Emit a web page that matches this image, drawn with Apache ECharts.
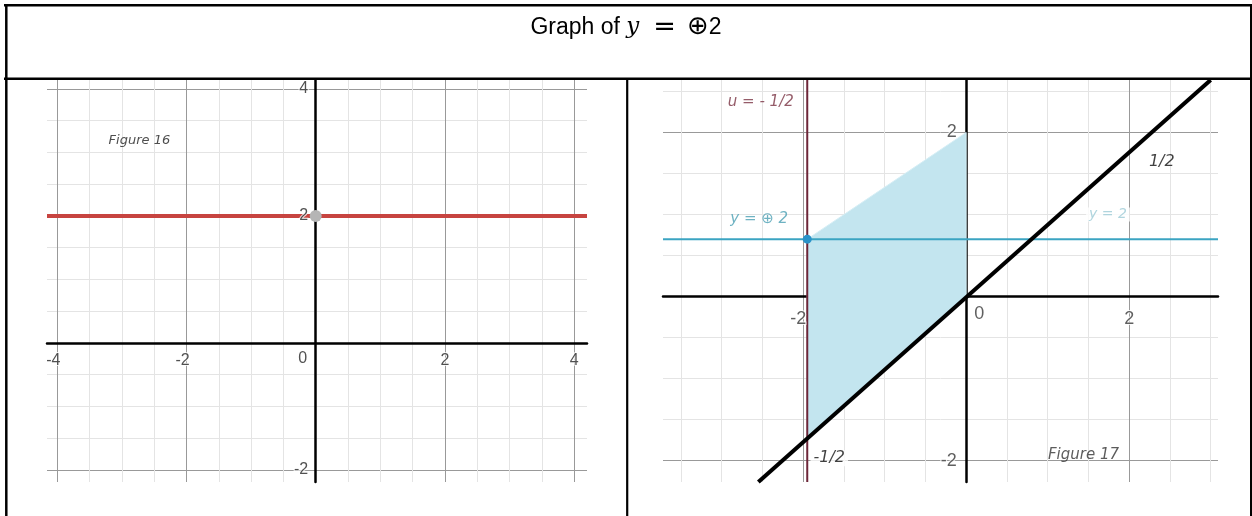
<!DOCTYPE html>
<html>
<head>
<meta charset="utf-8">
<script src="https://cdn.jsdelivr.net/npm/echarts@6/dist/echarts.min.js"></script>
<style>
html, body { margin: 0; padding: 0; background: #fff; }
#chart { width: 1252px; height: 516px; }
</style>
</head>
<body>
<div id="chart"></div>
<script>
// Figure 16 : the plain line y = 2
const fig16XRange = [-4.16, 4.2];
const fig16YRange = [-2.19, 4.14];
const fig16XTicks = [-4, -3.5, -3, -2.5, -2, -1.5, -1, -0.5, 0, 0.5, 1, 1.5, 2, 2.5, 3, 3.5, 4];
const fig16YTicks = [-2, -1.5, -1, -0.5, 0, 0.5, 1, 1.5, 2, 2.5, 3, 3.5, 4];
const fig16XLabels = [-4, -2, 2, 4];
const fig16YLabels = [-2, 2, 4];
const fig16LineX = [-4.16, 4.2];
const fig16LineY = [2, 2];
const fig16Point = [0, 2];
const fig16Notes = ['Figure 16'];
const fig16NoteAt = [[-2.73, 3.18]];

// Figure 17 : y = (+)2 built from u = -1/2
const fig17XRange = [-3.72, 3.09];
const fig17YRange = [-2.26, 2.64];
const fig17XTicks = [-3.5, -3, -2.5, -2, -1.5, -1, -0.5, 0, 0.5, 1, 1.5, 2, 2.5, 3];
const fig17YTicks = [-2, -1.5, -1, -0.5, 0, 0.5, 1, 1.5, 2, 2.5];
const fig17XLabels = [-2, 2];
const fig17YLabels = [-2, 2];
const fig17Region = [[-1.95, 0.7], [0, 2], [0, 0], [-1.95, -1.72]];
const fig17Diagonal = [[-2.55, -2.26], [3.0, 2.64]];
const fig17Level = [[-3.72, 0.7], [3.09, 0.7]];
const fig17Wall = [[-1.95, -2.26], [-1.95, 2.64]];
const fig17Point = [-1.95, 0.7];
const fig17Notes = ['u = - 1/2', 'y = \u2295 2', 'y = 2', '1/2', '-1/2', 'Figure 17'];
const fig17NoteAt = [[-2.52, 2.37], [-2.54, 0.95], [1.74, 1.0], [2.4, 1.64], [-1.68, -1.97], [1.44, -1.93]];

const MAJOR = '#999999';
const MINOR = '#e4e4e4';

const chart = echarts.init(document.getElementById('chart'));

// one axis of a desmos-like grid: light lines every 0.5, dark every 2
function gridAxis(gridIndex, range, ticks) {
    return {
        type: 'value',
        gridIndex: gridIndex,
        min: range[0],
        max: range[1],
        axisLine: { onZero: true, lineStyle: { color: '#000', width: 2.5 } },
        axisTick: { show: false, customValues: ticks },
        axisLabel: { show: false },
        splitLine: {
            show: true,
            lineStyle: { width: 1, color: ticks.map(v => v % 2 === 0 ? MAJOR : MINOR) }
        }
    };
}

// tick numbers sit next to the axis lines, like in desmos
function tickLabels(idx, values, dim, style) {
    return {
        type: 'scatter',
        xAxisIndex: idx,
        yAxisIndex: idx,
        symbolSize: 1,
        itemStyle: { color: 'transparent' },
        silent: true,
        z: 8,
        data: values.map(v => ({
            value: dim === 'x' ? [v, 0] : [0, v],
            label: { offset: dim === 'x' && v < 0 ? [style.shift, 0] : [0, 0] }
        })),
        label: {
            show: true,
            position: dim === 'x' ? 'bottom' : 'left',
            distance: style.distance,
            formatter: p => String(p.value[dim === 'x' ? 0 : 1]),
            fontFamily: 'Liberation Sans',
            fontSize: style.fontSize,
            color: style.color,
            textBorderColor: '#fff',
            textBorderWidth: 2
        }
    };
}

function notes(texts, at, xi, style) {
    return {
        type: 'scatter',
        xAxisIndex: xi,
        yAxisIndex: xi,
        symbolSize: 1,
        itemStyle: { color: 'transparent' },
        silent: true,
        z: 10,
        data: texts.map((t, i) => ({
            value: at[i],
            label: Object.assign({ show: true, position: 'inside', formatter: t }, style[i])
        }))
    };
}

const noteFont = { fontFamily: 'DejaVu Sans', fontStyle: 'italic' };
const fig16Tick = { fontSize: 16, color: '#262626', shift: -4 };
const fig17Tick = { fontSize: 18, color: '#383838', shift: -5 };

const option = {
    animation: false,
    title: {
        left: 'center',
        top: 9,
        text: '{a|Graph of }{y|y}{e|=}{c|\u2295}{d|2}',
        textStyle: {
            rich: {
                a: { fontFamily: 'Liberation Sans', fontWeight: 'normal', fontSize: 23, color: '#000' },
                y: { fontFamily: 'DejaVu Serif', fontWeight: 'normal', fontStyle: 'italic', fontSize: 23, color: '#000' },
                e: { fontFamily: 'DejaVu Sans', fontWeight: 'normal', fontSize: 27, color: '#000', padding: [0, 11, 0, 14] },
                c: { fontFamily: 'DejaVu Sans', fontWeight: 'normal', fontSize: 26, color: '#000' },
                d: { fontFamily: 'Liberation Sans', fontWeight: 'normal', fontSize: 23, color: '#000' }
            }
        }
    },
    grid: [
        { left: 47, top: 80, width: 540, height: 402 },
        { left: 663, top: 80, width: 555, height: 402 }
    ],
    xAxis: [
        gridAxis(0, fig16XRange, fig16XTicks),
        gridAxis(1, fig17XRange, fig17XTicks)
    ],
    yAxis: [
        gridAxis(0, fig16YRange, fig16YTicks),
        gridAxis(1, fig17YRange, fig17YTicks)
    ],
    graphic: {
        elements: [
            { type: 'line', z: 100, shape: { x1: 4, y1: 5.3, x2: 1252, y2: 5.3 }, style: { stroke: '#000', lineWidth: 2.5 } },
            { type: 'line', z: 100, shape: { x1: 4, y1: 78.7, x2: 1252, y2: 78.7 }, style: { stroke: '#000', lineWidth: 2.5 } },
            { type: 'line', z: 100, shape: { x1: 6.3, y1: 4, x2: 6.3, y2: 516 }, style: { stroke: '#000', lineWidth: 2.5 } },
            { type: 'line', z: 100, shape: { x1: 627.2, y1: 78, x2: 627.2, y2: 516 }, style: { stroke: '#000', lineWidth: 2.2 } },
            { type: 'line', z: 100, shape: { x1: 1251, y1: 4, x2: 1251, y2: 516 }, style: { stroke: '#000', lineWidth: 2 } }
        ]
    },
    series: [
        // figure 16
        {
            type: 'line',
            xAxisIndex: 0,
            yAxisIndex: 0,
            data: fig16LineX.map((x, i) => [x, fig16LineY[i]]),
            showSymbol: false,
            silent: true,
            z: 3,
            lineStyle: { color: '#c74440', width: 4 }
        },
        {
            type: 'scatter',
            xAxisIndex: 0,
            yAxisIndex: 0,
            data: [fig16Point],
            symbolSize: 12,
            itemStyle: { color: '#b5b5b5', opacity: 1 },
            silent: true,
            z: 6
        },
        tickLabels(0, fig16XLabels, 'x', Object.assign({ distance: 9 }, fig16Tick)),
        tickLabels(0, fig16YLabels, 'y', Object.assign({ distance: 7 }, fig16Tick)),
        {
            type: 'scatter',
            xAxisIndex: 0,
            yAxisIndex: 0,
            data: [[0, 0]],
            symbolSize: 1,
            itemStyle: { color: 'transparent' },
            silent: true,
            z: 8,
            label: { show: true, position: 'inside', formatter: '0', offset: [-13, 16], fontFamily: 'Liberation Sans', fontSize: 16, color: '#262626' }
        },
        notes(fig16Notes, fig16NoteAt, 0, [Object.assign({ fontSize: 13, color: '#222' }, noteFont)]),

        // figure 17
        {
            type: 'custom',
            xAxisIndex: 1,
            yAxisIndex: 1,
            data: [[0, 0]],
            silent: true,
            z: 2,
            renderItem: (params, api) => ({
                type: 'polygon',
                shape: { points: fig17Region.map(p => api.coord(p)) },
                style: { fill: '#c3e5ef', stroke: '#d6eef5', lineWidth: 1 }
            })
        },
        {
            type: 'line',
            xAxisIndex: 1,
            yAxisIndex: 1,
            data: fig17Level,
            showSymbol: false,
            silent: true,
            z: 3,
            lineStyle: { color: '#3ba4c2', width: 2 }
        },
        {
            type: 'line',
            xAxisIndex: 1,
            yAxisIndex: 1,
            data: fig17Wall,
            showSymbol: false,
            silent: true,
            z: 3,
            lineStyle: { color: '#6d2638', width: 2 }
        },
        {
            type: 'line',
            xAxisIndex: 1,
            yAxisIndex: 1,
            data: fig17Diagonal,
            showSymbol: false,
            silent: true,
            z: 4,
            lineStyle: { color: '#000', width: 4 }
        },
        {
            type: 'scatter',
            xAxisIndex: 1,
            yAxisIndex: 1,
            data: [fig17Point],
            symbolSize: 9,
            itemStyle: { color: '#2a93c9', opacity: 1 },
            silent: true,
            z: 6
        },
        tickLabels(1, fig17XLabels, 'x', Object.assign({ distance: 13 }, fig17Tick)),
        tickLabels(1, fig17YLabels, 'y', Object.assign({ distance: 9 }, fig17Tick)),
        {
            type: 'scatter',
            xAxisIndex: 1,
            yAxisIndex: 1,
            data: [[0, 0]],
            symbolSize: 1,
            itemStyle: { color: 'transparent' },
            silent: true,
            z: 8,
            label: { show: true, position: 'inside', formatter: '0', offset: [13, 17], fontFamily: 'Liberation Sans', fontSize: 18, color: '#383838' }
        },
        notes(fig17Notes, fig17NoteAt, 1, [
            Object.assign({ fontSize: 15, color: '#7a3344' }, noteFont),
            Object.assign({ fontSize: 15, color: '#4a9fb3' }, noteFont),
            Object.assign({ fontSize: 14, color: '#9ccad6', backgroundColor: '#fff', padding: [0, 3] }, noteFont),
            Object.assign({ fontSize: 16, color: '#111' }, noteFont),
            Object.assign({ fontSize: 16, color: '#111', backgroundColor: '#fff', padding: [0, 3] }, noteFont),
            Object.assign({ fontSize: 15, color: '#333' }, noteFont)
        ])
    ]
};

chart.setOption(option);
window.addEventListener('resize', () => chart.resize());
</script>
</body>
</html>
